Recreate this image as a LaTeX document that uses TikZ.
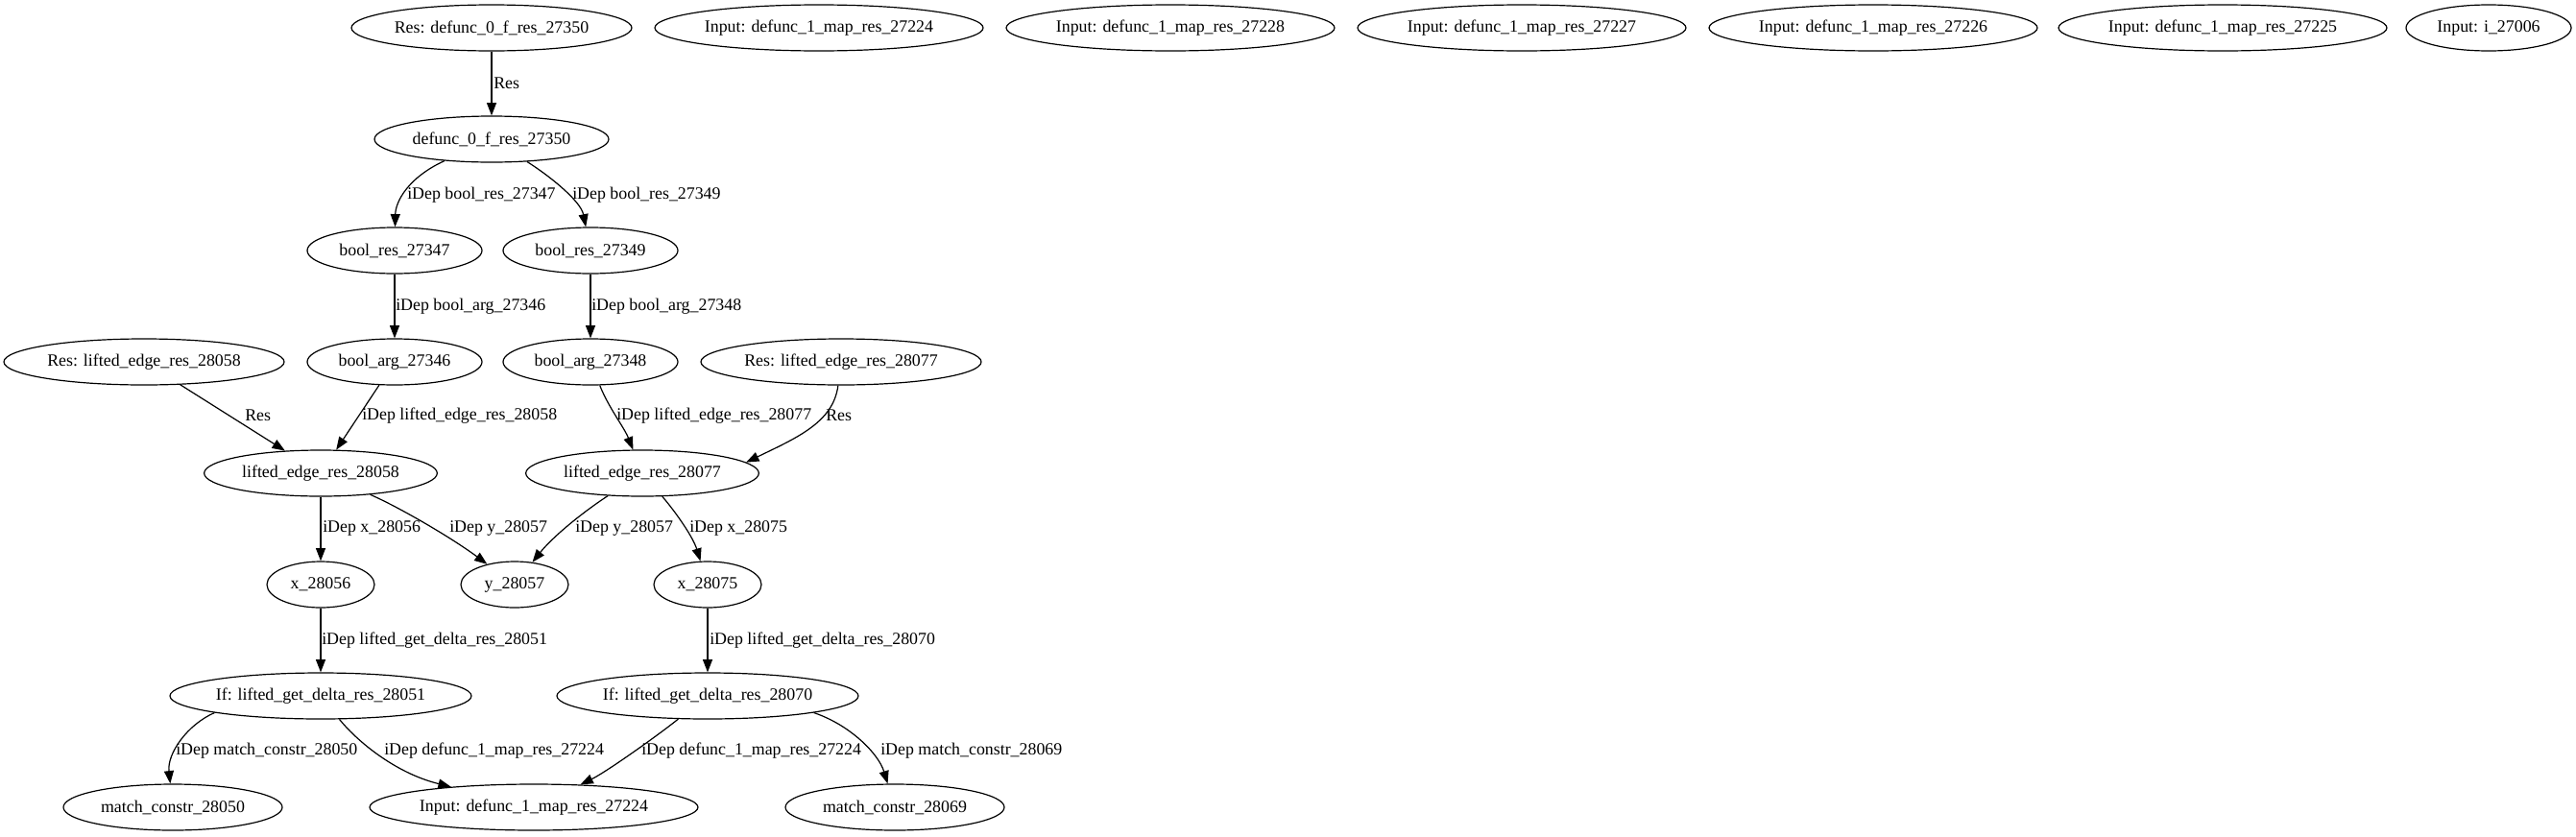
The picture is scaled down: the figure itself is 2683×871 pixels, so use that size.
\documentclass[tikz,border=0pt]{standalone}
\usepackage{fontspec}
\setmainfont{Liberation Serif}
\usetikzlibrary{shapes.geometric,arrows.meta}
\begin{document}
\begin{tikzpicture}[x=0.75pt,y=-0.75pt,
  every node/.style={font=\fontsize{13.4}{16}\selectfont},
  nd/.style={draw,ellipse,inner sep=0pt,minimum height=36pt,line width=0.9pt},
  lbl/.style={inner sep=0pt,anchor=west},
  arr/.style={-{Triangle[length=10pt,width=7.5pt]},line width=0.9pt}]
\useasboundingbox (0,0) rectangle (2683,871);
% rank 0
\node[nd,minimum width=219pt] (R0) at (512,29) {Res: defunc\_0\_f\_res\_27350};
\node[nd,minimum width=256.5pt] (I24) at (853,29) {Input: defunc\_1\_map\_res\_27224};
\node[nd,minimum width=256.5pt] (I28) at (1219,29) {Input: defunc\_1\_map\_res\_27228};
\node[nd,minimum width=256.5pt] (I27) at (1585,29) {Input: defunc\_1\_map\_res\_27227};
\node[nd,minimum width=256.5pt] (I26) at (1951,29) {Input: defunc\_1\_map\_res\_27226};
\node[nd,minimum width=256.5pt] (I25) at (2315,29) {Input: defunc\_1\_map\_res\_27225};
\node[nd,minimum width=129pt] (I06) at (2592,29) {Input: i\_27006};
% rank 1
\node[nd,minimum width=183pt] (D0) at (512,145) {defunc\_0\_f\_res\_27350};
% rank 2
\node[nd,minimum width=136.5pt] (BR47) at (411,261) {bool\_res\_27347};
\node[nd,minimum width=136.5pt] (BR49) at (615,261) {bool\_res\_27349};
% rank 3
\node[nd,minimum width=219pt] (RL58) at (150,377) {Res: lifted\_edge\_res\_28058};
\node[nd,minimum width=136.5pt] (BA46) at (411,377) {bool\_arg\_27346};
\node[nd,minimum width=136.5pt] (BA48) at (615,377) {bool\_arg\_27348};
\node[nd,minimum width=219pt] (RL77) at (876,377) {Res: lifted\_edge\_res\_28077};
% rank 4
\node[nd,minimum width=182pt] (LE58) at (334,493) {lifted\_edge\_res\_28058};
\node[nd,minimum width=182pt] (LE77) at (669,493) {lifted\_edge\_res\_28077};
% rank 5
\node[nd,minimum width=84pt] (X56) at (334,609) {x\_28056};
\node[nd,minimum width=84pt] (Y57) at (536,609) {y\_28057};
\node[nd,minimum width=84pt] (X75) at (737,609) {x\_28075};
% rank 6
\node[nd,minimum width=235.5pt] (If51) at (334,725) {If: lifted\_get\_delta\_res\_28051};
\node[nd,minimum width=235.5pt] (If70) at (737,725) {If: lifted\_get\_delta\_res\_28070};
% rank 7
\node[nd,minimum width=171pt] (MC50) at (180,841) {match\_constr\_28050};
\node[nd,minimum width=256.5pt] (I24b) at (556,841) {Input: defunc\_1\_map\_res\_27224};
\node[nd,minimum width=171pt] (MC69) at (932,841) {match\_constr\_28069};
% edges
\draw[arr] (R0) -- (D0);
\draw[arr] (D0) .. controls (425,185) and (412,210) .. (BR47);
\draw[arr] (D0) .. controls (575,185) and (605,210) .. (BR49);
\draw[arr] (BR47) -- (BA46);
\draw[arr] (BR49) -- (BA48);
\draw[arr] (RL58) -- (LE58);
\draw[arr] (BA46) -- (LE58);
\draw[arr] (BA48) .. controls (634,425) and (650,445) .. (LE77);
\draw[arr] (RL77) .. controls (868,440) and (830,456) .. (LE77.6);
\draw[arr] (LE58) -- (X56);
\draw[arr] (LE58) .. controls (415,528) and (470,560) .. (Y57);
\draw[arr] (LE77) .. controls (605,535) and (575,560) .. (Y57);
\draw[arr] (LE77) .. controls (705,535) and (722,560) .. (X75);
\draw[arr] (X56) -- (If51);
\draw[arr] (X75) -- (If70);
\draw[arr] (If51.189) .. controls (195,755) and (174,785) .. (MC50);
\draw[arr] (If51) .. controls (370,770) and (410,805) .. (I24b);
\draw[arr] (If70) .. controls (680,770) and (630,805) .. (I24b);
\draw[arr] (If70.351) .. controls (885,755) and (915,785) .. (MC69);
% labels
\node[lbl] (l1) at (514,87) {Res};
\node[lbl] (l2) at (424,203) {iDep bool\_res\_27347};
\node[lbl] (l3) at (596,203) {iDep bool\_res\_27349};
\node[lbl] (l4) at (412,319) {iDep bool\_arg\_27346};
\node[lbl] (l5) at (616,319) {iDep bool\_arg\_27348};
\node[lbl] (l6) at (255,433) {Res};
\node[lbl] (l7) at (377,433) {iDep lifted\_edge\_res\_28058};
\node[lbl] (l8) at (642,433) {iDep lifted\_edge\_res\_28077};
\node[lbl] (l9) at (860,433) {Res};
\node[lbl] (l10) at (336,550) {iDep x\_28056};
\node[lbl] (l11) at (468,550) {iDep y\_28057};
\node[lbl] (l12) at (599,550) {iDep y\_28057};
\node[lbl] (l13) at (718,550) {iDep x\_28075};
\node[lbl] (l14) at (335,667) {iDep lifted\_get\_delta\_res\_28051};
\node[lbl] (l15) at (739,667) {iDep lifted\_get\_delta\_res\_28070};
\node[lbl] (l16) at (183,782) {iDep match\_constr\_28050};
\node[lbl] (l17) at (400,782) {iDep defunc\_1\_map\_res\_27224};
\node[lbl] (l18) at (668,782) {iDep defunc\_1\_map\_res\_27224};
\node[lbl] (l19) at (917,782) {iDep match\_constr\_28069};
\end{tikzpicture}
\end{document}
